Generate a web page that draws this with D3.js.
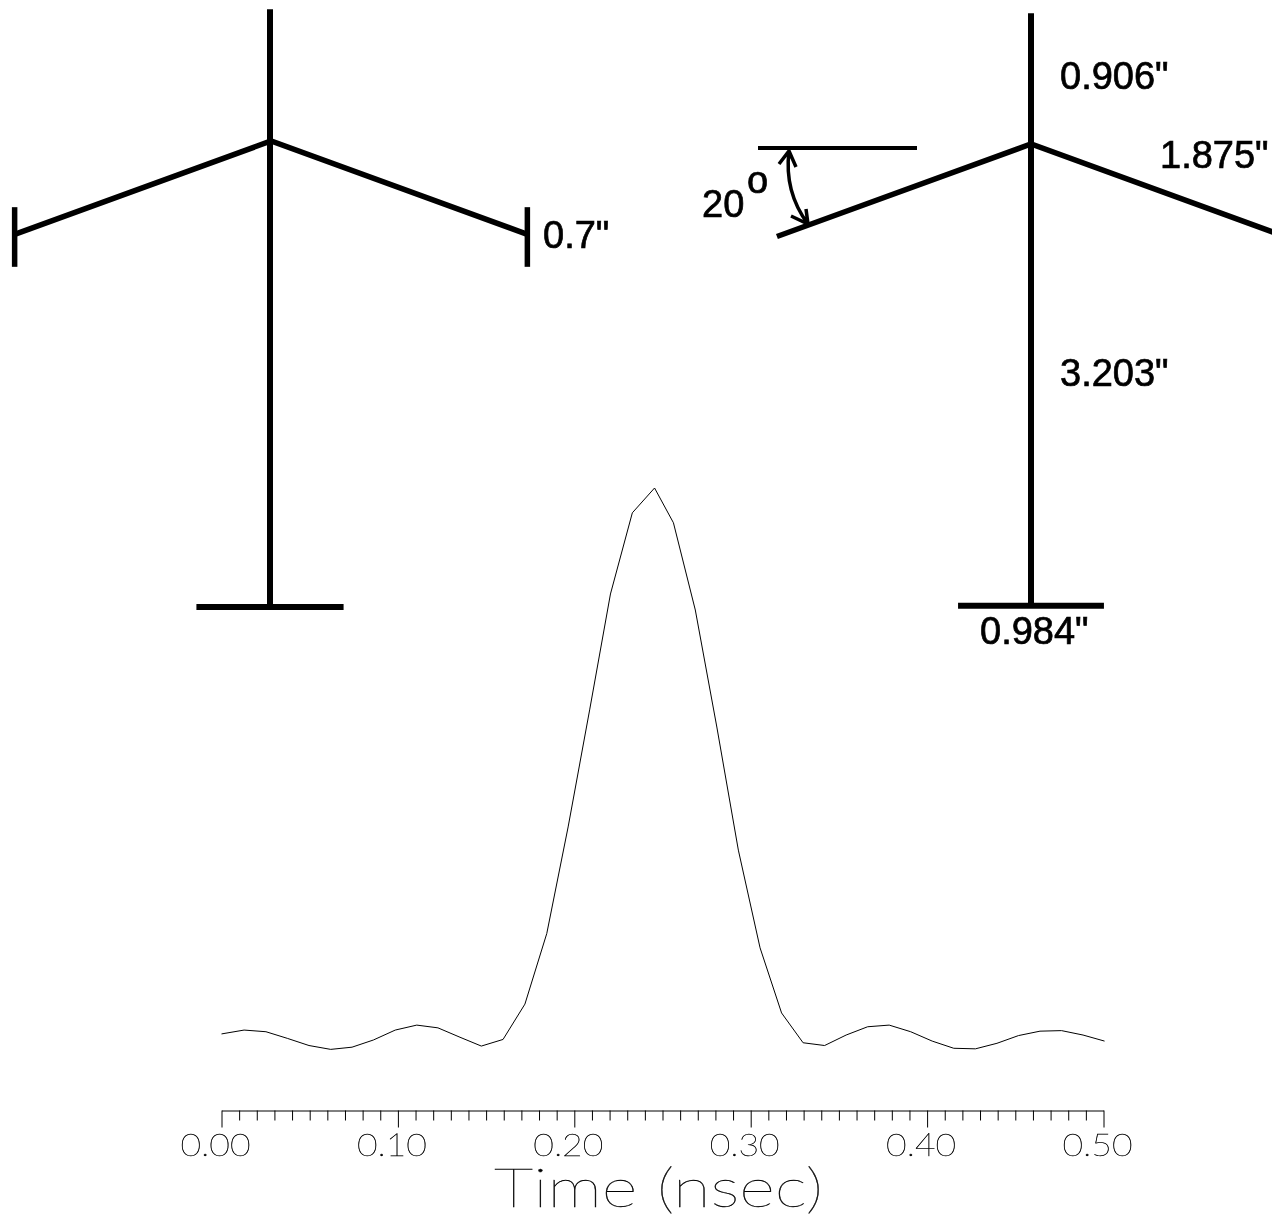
<!DOCTYPE html>
<html>
<head>
<meta charset="utf-8">
<script src="https://cdn.jsdelivr.net/npm/d3@7"></script>
<style>
  html, body { margin: 0; padding: 0; background: #fff; }
  svg { display: block; }
  .dim { font-family: "Liberation Sans", Arial, sans-serif; font-size: 38px; fill: #000; stroke: #000; stroke-width: .7px; filter: grayscale(1); }
  .thin { font-family: Lato, "Open Sans", sans-serif; font-weight: 100; fill: #000; stroke: #000; stroke-width: .35px; filter: grayscale(1); }
</style>
</head>
<body>
<svg id="chart" width="1272" height="1220"></svg>
<script>
// pulse
const times = [0, .0128, .0252, .0373, .0496, .0619, .074, .0861, .0985, .1107, .1227, .1352, .1473, .1596,
  .172, .1844, .1965, .2087, .2205, .2329, .2455, .2562, .2686, .2808, .293, .3053, .3175, .3297,
  .3419, .3541, .3663, .3785, .3907, .4029, .4151, .4274, .4396, .4518, .464, .4762, .4884, .5006];
const amps = [.011, .018, .015, .003, -.010, -.017, -.013, 0, .018, .027, .022, .005, -.011, .001,
  .065, .193, .386, .598, .808, .955, 1, .937, .779, .567, .344, .167, .049, -.005,
  -.010, .009, .024, .027, .015, -.002, -.015, -.016, -.006, .008, .016, .017, .009, -.002];
const majorTicks = [0, .1, .2, .3, .4, .5];
const minorTicks = [.01, .02, .03, .04, .05, .06, .07, .08, .09, .11, .12, .13, .14, .15, .16, .17, .18, .19,
  .21, .22, .23, .24, .25, .26, .27, .28, .29, .31, .32, .33, .34, .35, .36, .37, .38, .39,
  .41, .42, .43, .44, .45, .46, .47, .48, .49];

// antenna dimensions in inches
const topLen = 0.906, bottomLen = 3.203, armLen = 1.875, barLen = 0.984, capLen = 0.41;
const armAngle = 20;

const svg = d3.select("#chart");

const x = d3.scaleLinear().domain([0, .5]).range([221.5, 1103.5]);
const y = d3.scaleLinear().domain([0, 1]).range([1040, 488]);

// Curve
svg.append("path")
  .datum(times.map((t, i) => [t, amps[i]]))
  .attr("fill", "none")
  .attr("stroke", "#000")
  .attr("stroke-width", 1)
  .attr("d", d3.line().x(d => x(d[0])).y(d => y(d[1])));

// Axis
const axisMinor = svg.append("g")
  .attr("transform", "translate(0,1110.5)")
  .call(d3.axisBottom(x).tickValues(minorTicks).tickSize(10).tickSizeOuter(0).tickFormat(""));
axisMinor.select(".domain").remove();

const axisMajor = svg.append("g")
  .attr("transform", "translate(0,1110.5)")
  .call(d3.axisBottom(x).tickValues(majorTicks).tickSize(17).tickSizeOuter(0).tickFormat(d3.format(".2f")));
axisMajor.selectAll("text")
  .attr("class", "thin")
  .attr("y", 45)
  .attr("dy", 0)
  .attr("dx", -6.5)
  .attr("textLength", 70)
  .attr("lengthAdjust", "spacingAndGlyphs")
  .attr("text-anchor", "middle")
  .style("font-size", "32px");

svg.append("text")
  .attr("class", "thin")
  .attr("x", 494)
  .attr("y", 1207)
  .attr("textLength", 329)
  .attr("lengthAdjust", "spacingAndGlyphs")
  .style("font-size", "53px")
  .text("Time (nsec)");

// Antenna figures
function antenna(cx, cy, pxPerInch, armShift) {
  const s = d3.scaleLinear().domain([0, 1]).range([0, pxPerInch]);
  const dx = s(armLen * Math.cos(armAngle * Math.PI / 180));
  const dy = s(armLen * Math.sin(armAngle * Math.PI / 180));
  const g = svg.append("g").attr("fill", "none").attr("stroke", "#000").attr("stroke-width", 6);
  g.append("line").attr("x1", cx).attr("x2", cx).attr("y1", cy - s(topLen)).attr("y2", cy + s(bottomLen));
  g.append("line").attr("x1", cx - s(barLen) / 2 - 2).attr("x2", cx + s(barLen) / 2 + 2)
    .attr("y1", cy + s(bottomLen)).attr("y2", cy + s(bottomLen));
  g.append("polyline").attr("stroke-width", 5.5)
    .attr("points", [[cx + armShift - dx, cy + dy], [cx + armShift, cy], [cx + armShift + dx, cy + dy]].join(" "));
  return { g, s, dx, dy };
}

const left = antenna(270, 141, 145.5, 1);
[-left.dx, left.dx].forEach(d => {
  left.g.append("line").attr("stroke-width", 5.5)
    .attr("x1", 271 + d).attr("x2", 271 + d)
    .attr("y1", 237 - left.s(capLen) / 2).attr("y2", 237 + left.s(capLen) / 2);
});

const right = antenna(1031, 144, 144.2, 0);

// 20 degree marker
const marker = svg.append("g").attr("fill", "none").attr("stroke", "#000");
marker.append("line").attr("stroke-width", 4)
  .attr("x1", 758).attr("x2", 917).attr("y1", 148).attr("y2", 148);
const arc = d3.path();
arc.moveTo(789, 151);
arc.quadraticCurveTo(784, 192, 808, 224);
arc.moveTo(779, 164);
arc.lineTo(789, 151);
arc.lineTo(796, 167);
arc.moveTo(791, 216);
arc.lineTo(808, 224);
arc.lineTo(806, 209);
marker.append("path").attr("stroke-width", 3.5).attr("d", arc.toString());

// Dimension labels
const labels = [
  ["0.7\"", 543, 248],
  ["0.906\"", 1060, 89],
  ["1.875\"", 1160, 168],
  ["3.203\"", 1060, 386],
  ["0.984\"", 980, 644],
  ["20", 702, 217],
  ["o", 747, 193]
];
svg.selectAll("text.dim")
  .data(labels)
  .enter().append("text")
    .attr("class", "dim")
    .attr("x", d => d[1])
    .attr("y", d => d[2])
    .text(d => d[0]);
</script>
</body>
</html>
